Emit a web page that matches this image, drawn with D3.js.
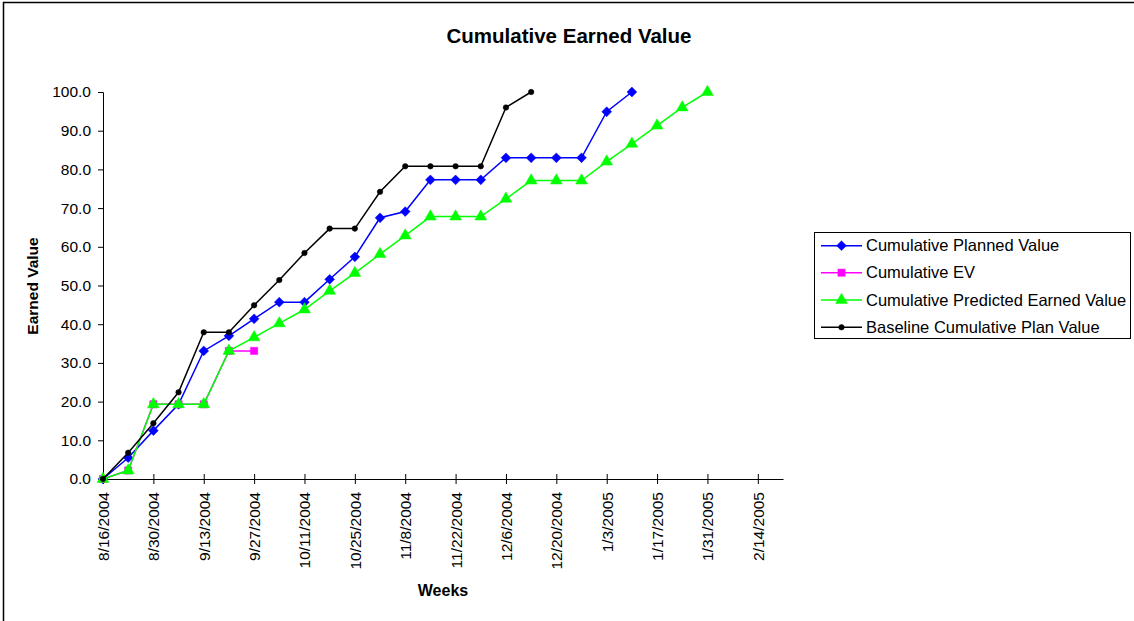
<!DOCTYPE html>
<html>
<head>
<meta charset="utf-8">
<script src="https://cdn.jsdelivr.net/npm/d3@7"></script>
<style>
  html, body { margin: 0; padding: 0; background: #fff; }
  svg { display: block; font-family: Arial, "Liberation Sans", sans-serif; }
</style>
</head>
<body>
<svg id="chart" width="1134" height="621"></svg>
<script>
// ---- Data ----
const startDate = "2004-08-16";
const endDate = "2005-02-21";
const tickLabels = ["8/16/2004","8/30/2004","9/13/2004","9/27/2004","10/11/2004","10/25/2004","11/8/2004","11/22/2004","12/6/2004","12/20/2004","1/3/2005","1/17/2005","1/31/2005","2/14/2005"];
const yTicks = [0,10,20,30,40,50,60,70,80,90,100];

const plannedValue = [0, 5.5, 12.5, 19.3, 33.1, 37.0, 41.4, 45.7, 45.7, 51.6, 57.4, 67.5, 69.1, 77.3, 77.3, 77.3, 83.0, 83.0, 83.0, 83.0, 94.9, 100.0];
const earnedValue = [0, 2.2, 19.3, 19.3, 19.3, 33.1, 33.1];
const predictedEV = [0, 2.2, 19.3, 19.3, 19.3, 33.1, 36.6, 40.2, 43.8, 48.6, 53.2, 58.1, 62.9, 67.8, 67.8, 67.8, 72.4, 77.1, 77.1, 77.1, 82.0, 86.6, 91.3, 96.0, 100.0];
const baselinePV = [0, 6.8, 14.4, 22.4, 37.9, 37.9, 44.9, 51.4, 58.4, 64.7, 64.7, 74.2, 80.8, 80.8, 80.8, 80.8, 96.0, 100.0];

const seriesNames = ["Cumulative Planned Value","Cumulative EV","Cumulative Predicted Earned Value","Baseline Cumulative Plan Value"];

(function () {
// ---- Setup ----
const svg = d3.select("#chart");
const parse = d3.timeParse("%Y-%m-%d");
const t0 = parse(startDate), t1 = parse(endDate);
const weekDate = i => d3.timeDay.offset(t0, i * 7);

const pLeft = 103, pRight = 783, pTop = 92, pBottom = 479;
const x = d3.scaleTime().domain([t0, t1]).range([pLeft, pRight]);
const y = d3.scaleLinear().domain([0, 100]).range([pBottom, pTop]);

// chart area border (left & top visible)
svg.append("rect").attr("x", 3.5).attr("y", 2.5).attr("width", 1200).attr("height", 700)
  .attr("fill", "none").attr("stroke", "#000").attr("stroke-width", 1.5);

// title
svg.append("text").attr("x", 569).attr("y", 43).attr("text-anchor", "middle")
  .attr("font-size", 20.5).attr("font-weight", "bold").text("Cumulative Earned Value");

// y axis
const yAxis = d3.axisLeft(y).tickValues(yTicks).tickFormat(d3.format(".1f")).tickSize(5).tickPadding(7);
const gy = svg.append("g").attr("transform", `translate(${pLeft},0)`).call(yAxis);
gy.selectAll("text").attr("font-size", 15.5).attr("fill", "#000").style("font-family", "Arial, 'Liberation Sans', sans-serif");
gy.selectAll("line").attr("stroke", "#000");
gy.select(".domain").attr("stroke", "#000");

// x axis
const xTickDates = tickLabels.map((_, i) => d3.timeDay.offset(t0, i * 14));
const xAxis = d3.axisBottom(x).tickValues(xTickDates).tickFormat((d, i) => tickLabels[i]).tickSize(5).tickSizeOuter(0);
const gx = svg.append("g").attr("transform", `translate(0,${pBottom})`).call(xAxis);
gx.selectAll(".tick line").attr("y1", -5).attr("y2", 5).attr("stroke", "#000");
gx.select(".domain").attr("stroke", "#000");
gx.selectAll("text")
  .attr("font-size", 15.5).attr("fill", "#000").style("font-family", "Arial, 'Liberation Sans', sans-serif")
  .attr("transform", "rotate(-90)")
  .attr("x", -13).attr("y", 0).attr("dy", "0.35em")
  .attr("text-anchor", "end");

// axis titles
svg.append("text").attr("transform", "translate(38,286) rotate(-90)").attr("text-anchor", "middle")
  .attr("font-size", 15.5).attr("font-weight", "bold").text("Earned Value");
svg.append("text").attr("x", 443).attr("y", 596).attr("text-anchor", "middle")
  .attr("font-size", 16).attr("font-weight", "bold").text("Weeks");

// series
const series = [
  { name: seriesNames[0], data: plannedValue, color: "#0000FF", marker: "diamond" },
  { name: seriesNames[1], data: earnedValue, color: "#FF00FF", marker: "square" },
  { name: seriesNames[2], data: predictedEV, color: "#00FF00", marker: "triangle" },
  { name: seriesNames[3], data: baselinePV, color: "#000000", marker: "circle" }
];

const symbolFor = m => {
  if (m === "diamond") return d3.symbol().type(d3.symbolSquare).size(48);
  if (m === "square") return d3.symbol().type(d3.symbolSquare).size(52);
  if (m === "triangle") return d3.symbol().type(d3.symbolTriangle).size(60);
  return d3.symbol().type(d3.symbolCircle).size(24);
};
const rot = m => (m === "diamond" ? " rotate(45)" : "");

const line = d3.line().x((d, i) => x(weekDate(i))).y(d => y(d));

series.forEach(s => {
  const g = svg.append("g");
  g.append("path").datum(s.data).attr("d", line)
    .attr("fill", "none").attr("stroke", s.color).attr("stroke-width", 1.5);
  const sym = symbolFor(s.marker);
  g.selectAll("path.m").data(s.data).enter().append("path").attr("class", "m")
    .attr("d", sym)
    .attr("transform", (d, i) => `translate(${x(weekDate(i))},${y(d)})` + rot(s.marker))
    .attr("fill", s.color).attr("stroke", s.color).attr("stroke-width", 0.5);
});

// legend
const lg = svg.append("g");
lg.append("rect").attr("x", 814.5).attr("y", 232.5).attr("width", 316).attr("height", 106)
  .attr("fill", "#fff").attr("stroke", "#000").attr("stroke-width", 1);
const legY = [245.7, 272.7, 300, 327.3];
series.forEach((s, i) => {
  const yy = legY[i];
  lg.append("line").attr("x1", 821).attr("x2", 862).attr("y1", yy).attr("y2", yy)
    .attr("stroke", s.color).attr("stroke-width", 1.5);
  lg.append("path")
    .attr("d", symbolFor(s.marker))
    .attr("transform", `translate(841.5,${yy})` + rot(s.marker))
    .attr("fill", s.color).attr("stroke", s.color).attr("stroke-width", 0.5);
  lg.append("text").attr("x", 866).attr("y", yy).attr("dy", "0.35em")
    .attr("font-size", 16.5).text(s.name);
});
})();
</script>
</body>
</html>
